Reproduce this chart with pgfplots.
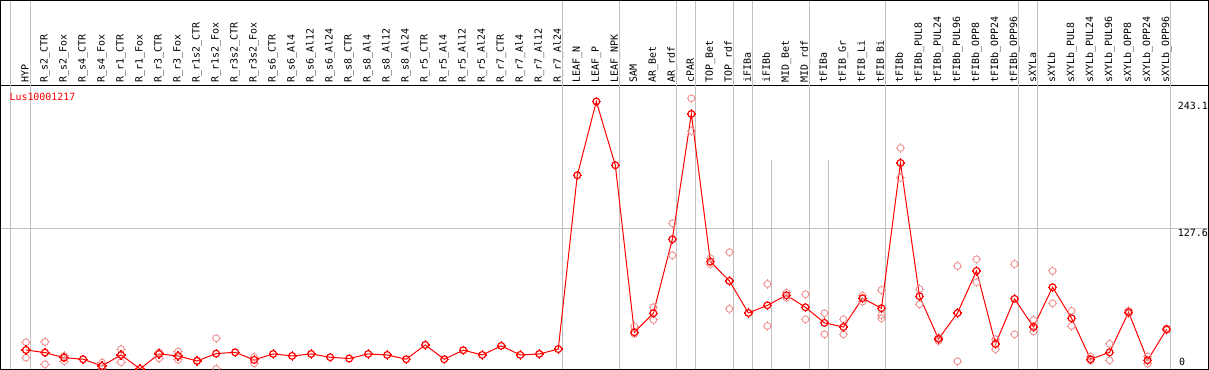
\documentclass[border=0pt]{standalone}
\usepackage{pgfplots}
\usepackage{pgfplotstable}
\pgfplotsset{compat=1.18}
\usepackage{fontspec}
\newfontfamily\monof{DejaVu Sans Mono}
\definecolor{gridg}{RGB}{192,192,192}
\definecolor{repc}{RGB}{240,145,145}
\definecolor{meanc}{RGB}{255,0,0}

\pgfdeclareplotmark{tc}{%
  \pgfpathcircle{\pgfpointorigin}{\pgfplotmarksize}%
  \pgfusepathqstroke
  \pgfpathmoveto{\pgfpoint{0pt}{\pgfplotmarksize}}\pgfpathlineto{\pgfpoint{0pt}{1.35\pgfplotmarksize}}%
  \pgfpathmoveto{\pgfpoint{0pt}{-\pgfplotmarksize}}\pgfpathlineto{\pgfpoint{0pt}{-1.35\pgfplotmarksize}}%
  \pgfpathmoveto{\pgfpoint{\pgfplotmarksize}{0pt}}\pgfpathlineto{\pgfpoint{1.35\pgfplotmarksize}{0pt}}%
  \pgfpathmoveto{\pgfpoint{-\pgfplotmarksize}{0pt}}\pgfpathlineto{\pgfpoint{-1.35\pgfplotmarksize}{0pt}}%
  \pgfusepathqstroke
}

\pgfplotstableread{
x y
0 17.4
1 15.0
2 10.4
3 9.0
4 2.9
5 12.9
6 0.2
7 13.8
8 12.0
9 7.4
10 14.1
11 15.3
12 8.4
13 13.8
14 12.0
15 13.8
16 10.8
17 9.6
18 13.8
19 12.9
20 9.0
21 22.0
22 9.0
23 17.2
24 12.9
25 21.1
26 12.9
27 13.8
28 18.2
29 176.1
30 243.1
31 185.2
32 33.5
33 50.8
34 118.0
35 231.8
36 97.6
37 80.1
38 51.0
39 58.0
40 67.1
41 56.2
42 42.0
43 38.3
44 64.4
45 55.3
46 187.3
47 66.2
48 27.4
49 51.0
50 89.2
51 22.9
52 63.8
53 38.3
54 74.4
55 46.2
56 9.0
57 15.3
58 51.7
59 8.1
60 36.2
}\means

\pgfplotstableread{
x y
0 24.4
0 10.4
1 24.7
1 4.4
2 12.0
2 7.4
4 5.9
4 0.5
5 18.1
5 6.3
7 15.3
7 9.9
8 15.9
8 8.4
9 8.0
10 28.1
10 0.2
12 5.3
12 11.0
32 38.6
32 32.0
33 56.2
33 44.7
34 132.5
34 103.4
35 246.0
35 216.3
36 100.7
36 95.3
37 106.2
37 54.7
39 77.4
39 39.2
40 69.4
40 64.8
41 68.0
41 45.3
42 50.8
42 31.7
43 45.3
43 31.7
44 66.8
44 61.3
45 71.9
45 49.2
45 46.2
46 200.9
46 173.7
47 72.8
47 58.9
48 28.6
48 25.6
49 93.7
49 7.2
50 99.8
50 78.9
51 27.2
51 18.1
52 95.5
52 31.7
53 44.7
53 34.1
54 89.2
54 59.8
55 52.9
55 39.2
56 11.4
56 7.7
57 22.9
57 8.1
58 53.0
58 50.5
59 11.4
59 5.0
60 37.0
60 35.5
}\reps

\begin{document}
\begin{tikzpicture}
\begin{axis}[
  scale only axis, width=1207.5bp, height=283.7bp,
  xmin=-1.3414, xmax=62.178, ymin=0, ymax=257.7,
  clip=false,
  axis line style={line width=1bp, black},
  xtick={0,...,60},
  xticklabels={HYP, R\_s2\_CTR, R\_s2\_Fox, R\_s4\_CTR, R\_s4\_Fox, R\_r1\_CTR, R\_r1\_Fox, R\_r3\_CTR, R\_r3\_Fox, R\_r1s2\_CTR, R\_r1s2\_Fox, R\_r3s2\_CTR, R\_r3s2\_Fox, R\_s6\_CTR, R\_s6\_Al4, R\_s6\_Al12, R\_s6\_Al24, R\_s8\_CTR, R\_s8\_Al4, R\_s8\_Al12, R\_s8\_Al24, R\_r5\_CTR, R\_r5\_Al4, R\_r5\_Al12, R\_r5\_Al24, R\_r7\_CTR, R\_r7\_Al4, R\_r7\_Al12, R\_r7\_Al24, LEAF\_N, LEAF\_P, LEAF\_NPK, SAM, AR\_Bet, AR\_rdf, cPAR, TOP\_Bet, TOP\_rdf, iFIBa, iFIBb, MID\_Bet, MID\_rdf, tFIBa, tFIB\_Gr, tFIB\_Li, tFIB\_Bi, tFIBb, tFIBb\_PUL8, tFIBb\_PUL24, tFIBb\_PUL96, tFIBb\_OPP8, tFIBb\_OPP24, tFIBb\_OPP96, sXYLa, sXYLb, sXYLb\_PUL8, sXYLb\_PUL24, sXYLb\_PUL96, sXYLb\_OPP8, sXYLb\_OPP24, sXYLb\_OPP96},
  xticklabel pos=upper,
  major tick length=0pt,
  ytick=\empty,
  xticklabel style={rotate=90, anchor=west, font=\monof\fontsize{10}{12}\selectfont, inner sep=0pt, text height=7.5bp, text depth=2.5bp},
  xticklabel shift=2.8bp,
]
\draw[gridg, line width=1bp] (axis cs:-1.3414,127.6) -- (axis cs:62.178,127.6);
\pgfplotsinvokeforeach{-0.84,0.247,28.23,31.23,34.23,35.23,37.23,38.23,41.23,45.23,52.23,53.23,60.23}{
  \draw[gridg, line width=1bp] (axis cs:#1,0) -- (axis cs:#1,334.9);
}
\pgfplotsinvokeforeach{39.23,42.23}{
  \draw[gridg, line width=1bp] (axis cs:#1,0) -- (axis cs:#1,190);
}
\draw[black, line width=1bp] (axis cs:-1.3414,257.7) -- (axis cs:-1.3414,334.9) -- (axis cs:62.178,334.9) -- (axis cs:62.178,257.7);

\addplot[only marks, mark=tc, mark size=3.4bp, repc, mark options={line width=0.9bp}] table[x=x,y=y]{\reps};
\addplot[meanc, line width=1bp, mark=tc, mark size=3.4bp, mark options={line width=1.2bp}] table[x=x,y=y]{\means};

\node[anchor=north west, inner sep=0pt, font=\monof\fontsize{10}{12}\selectfont, text=meanc] at (axis cs:-0.878,250.6) {Lus10001217};
\node[anchor=north west, inner sep=0pt, font=\monof\fontsize{10}{12}\selectfont] at (axis cs:60.58,243.1) {243.1};
\node[anchor=north west, inner sep=0pt, font=\monof\fontsize{10}{12}\selectfont] at (axis cs:60.58,127.4) {127.6};
\node[anchor=south west, inner sep=0pt, font=\monof\fontsize{10}{12}\selectfont] at (axis cs:60.65,3.4) {0};

\coordinate (bbl) at (axis cs:-1.3677,-0.73);
\coordinate (btr) at (axis cs:62.23,335.3);
\end{axis}
\pgfresetboundingbox
\useasboundingbox (bbl) rectangle (btr);
\end{tikzpicture}
\end{document}
